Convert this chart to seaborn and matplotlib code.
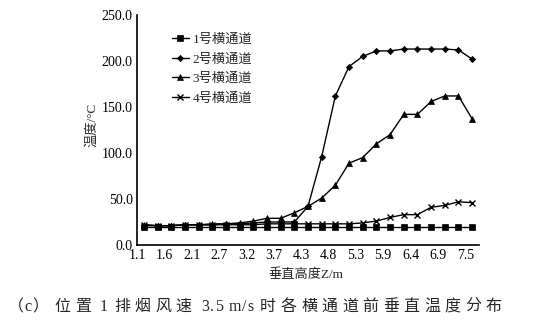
import matplotlib
matplotlib.use("Agg")
import matplotlib.pyplot as plt
import seaborn as sns
import pandas as pd

heights = [1.1, 1.37, 1.63, 1.9, 2.17, 2.43, 2.7, 2.97, 3.23, 3.5, 3.77, 4.03, 4.3,
           4.57, 4.83, 5.1, 5.37, 5.63, 5.9, 6.17, 6.43, 6.7, 6.97, 7.23, 7.5]
tick_labels = ["1.1", "1.6", "2.1", "2.7", "3.2", "3.7", "4.3", "4.8", "5.3", "5.9", "6.4", "6.9", "7.5"]

s1 = [20, 20, 20, 20, 20, 20, 20, 20, 20, 20, 20, 20, 20,
      20, 20, 20, 20, 20, 20, 20, 20, 20, 20, 20, 20]
s2 = [21, 21, 21, 22, 22, 22, 23, 23, 24, 25, 25, 25, 42,
      96, 162, 194, 205, 211, 211, 213, 213, 213, 213, 212, 202]
s3 = [22, 21, 21, 22, 22, 23, 23, 24, 26, 29, 29, 35, 42,
      51, 65, 89, 95, 110, 120, 142, 142, 156, 162, 162, 137]
s4 = [22, 21, 21, 22, 22, 22, 22, 22, 22, 23, 23, 23, 23,
      23, 23, 23, 24, 26, 30, 33, 33, 41, 43, 47, 46]
names = ["1号横通道", "2号横通道", "3号横通道", "4号横通道"]
markers = ["s", "D", "^", "x"]
msizes = [4.5, 3.2, 4.0, 4.0]
caption = "（c） 位置 1 排烟风速 3.5 m/s 时各横通道前垂直温度分布"

sns.set_style("white")
plt.rcParams['font.family'] = ['Liberation Serif', 'Noto Sans CJK SC']

fig = plt.figure(figsize=(5.53, 3.35), dpi=100)
ax = fig.add_axes([137/553, 1-245/335, (479-137)/553, 230/335])

for name, vals, mk, ms in zip(names, [s1, s2, s3, s4], markers, msizes):
    df = pd.DataFrame({"pos": [i + 0.5 for i in range(len(heights))],
                       "height": heights, "temp": vals})
    sns.lineplot(data=df, x="pos", y="temp", color="black", marker=mk,
                 markersize=ms, linewidth=1.0, markeredgecolor="black",
                 markerfacecolor="black", markeredgewidth=1.0 if mk == "x" else 0.5,
                 label=name, ax=ax)

ax.set_xlim(0, 25)
ax.set_ylim(0, 250)
ax.set_xticks(list(range(0, 25, 2)))
ax.set_xticklabels(tick_labels, fontsize=10)
ax.set_yticks([0, 50, 100, 150, 200, 250])
ax.set_yticklabels(["0.0", "50.0", "100.0", "150.0", "200.0", "250.0"], fontsize=10)
ax.tick_params(axis="both", direction="in", length=4, width=1, colors="black", pad=3)
for s in ["top", "right"]:
    ax.spines[s].set_visible(False)
for s in ["left", "bottom"]:
    ax.spines[s].set_color("black")
    ax.spines[s].set_linewidth(1.2)
ax.set_xlabel("")
ax.set_ylabel("")

fig.text(92/553, 1-125/335, "温度/°C", rotation=90, ha="center", va="center", fontsize=9.5)
fig.text(306/553, 1-275/335, "垂直高度Z/m", ha="center", va="center", fontsize=9.5)

# caption with letter spacing
renderer = fig.canvas.get_renderer()
x_px = 8.0
y_fig = 1 - 307/335
gap = 4.5
for ch in caption:
    if ch == " ":
        x_px += 5.0
        continue
    t = fig.text(x_px/553, y_fig, ch, ha="left", va="center", fontsize=11.5)
    w = t.get_window_extent(renderer=renderer).width
    if ch in "（）":
        x_px += w + 0.5
    else:
        x_px += w + (gap if ord(ch) > 0x2000 else 1.0)

leg = ax.legend(loc="upper left", bbox_to_anchor=(165/553, 1-27/335),
                bbox_transform=fig.transFigure, frameon=False, fontsize=9.5,
                handlelength=1.3, handletextpad=0.3, labelspacing=0.55, borderpad=0)

fig.savefig("out.png", dpi=100)
